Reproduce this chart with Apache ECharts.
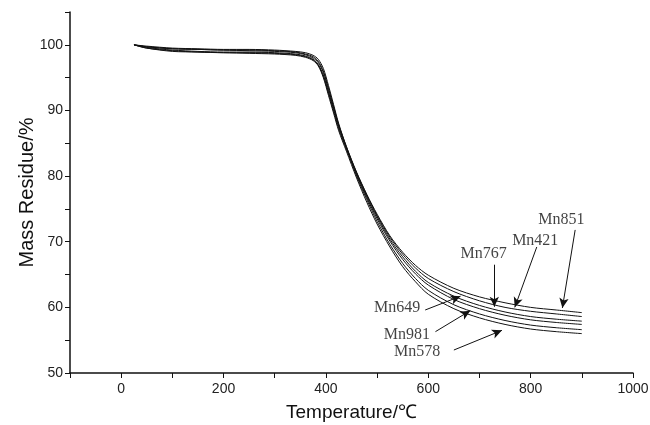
<!DOCTYPE html>
<html>
<head>
<meta charset="utf-8">
<script src="https://cdn.jsdelivr.net/npm/echarts@6/dist/echarts.min.js"></script>
<style>
  html, body { margin: 0; padding: 0; background: #fff; }
  #chart { width: 650px; height: 425px; }
</style>
</head>
<body>
<div id="chart"></div>
<script>
// --- data ---
const temps = [25, 50, 100, 150, 200, 250, 300, 340, 360, 375, 385, 395, 405, 415, 425, 440, 460, 480, 500, 525, 550, 575, 600, 650, 700, 750, 800, 850, 900];

const mn851 = [100, 99.7, 99.4, 99.3, 99.2, 99.1, 99.0, 98.8, 98.5, 98.0, 97.3, 95.8, 93.2, 90.5, 87.8, 84.5, 80.6, 77.2, 74.2, 70.9, 68.4, 66.4, 64.9, 62.9, 61.6, 60.7, 60.0, 59.6, 59.2];
const mn421 = [100, 99.6, 99.2, 99.0, 98.9, 98.9, 98.8, 98.6, 98.3, 97.8, 97.0, 95.4, 92.8, 90.2, 87.5, 84.3, 80.5, 77.1, 74.0, 70.7, 68.1, 66.0, 64.4, 62.4, 61.0, 60.0, 59.4, 59.0, 58.6];
const mn767 = [100, 99.8, 99.5, 99.4, 99.3, 99.3, 99.2, 99.0, 98.8, 98.4, 97.8, 96.4, 93.8, 90.9, 88.0, 84.5, 80.4, 76.9, 73.8, 70.4, 67.7, 65.5, 63.8, 61.7, 60.3, 59.3, 58.6, 58.2, 57.9];
const mn649 = [100, 99.5, 99.1, 98.9, 98.8, 98.8, 98.7, 98.5, 98.2, 97.7, 96.9, 95.2, 92.6, 89.9, 87.2, 84.1, 80.2, 76.7, 73.5, 70.1, 67.3, 65.1, 63.4, 61.2, 59.8, 58.8, 58.1, 57.7, 57.4];
const mn981 = [100, 99.7, 99.4, 99.3, 99.2, 99.2, 99.1, 98.9, 98.6, 98.2, 97.5, 96.0, 93.4, 90.6, 87.7, 84.3, 80.0, 76.4, 73.1, 69.6, 66.7, 64.4, 62.6, 60.4, 59.0, 58.0, 57.3, 56.9, 56.6];
const mn578 = [100, 99.5, 99.0, 98.9, 98.8, 98.7, 98.6, 98.4, 98.1, 97.6, 96.8, 95.0, 92.3, 89.6, 86.9, 83.8, 79.7, 76.0, 72.7, 69.2, 66.2, 63.9, 62.0, 59.8, 58.4, 57.4, 56.7, 56.3, 56.0];

const curveNames = ['Mn851', 'Mn421', 'Mn767', 'Mn649', 'Mn981', 'Mn578'];
const curveValues = [mn851, mn421, mn767, mn649, mn981, mn578];

// annotation text spots and arrows (temperature, mass)
const labelSpots = [[860, 73.4], [809, 70.2], [708, 68.2], [539, 59.9], [558, 55.8], [578, 53.2]];
const arrowFrom = [[887, 71.8], [812, 69.2], [729, 66.5], [594, 59.6], [614, 56.3], [650, 53.5]];
const arrowTo = [[862, 59.9], [769, 60.0], [729, 60.1], [663, 61.7], [682, 59.5], [744, 56.5]];

// --- chart ---
const chart = echarts.init(document.getElementById('chart'));

const lineSeries = curveNames.map((name, i) => ({
    name: name,
    type: 'line',
    data: temps.map((t, j) => [t, curveValues[i][j]]),
    smooth: 0.3,
    showSymbol: false,
    lineStyle: { color: '#111', width: 1 },
    silent: true
}));

const noteSeries = {
    type: 'scatter',
    symbolSize: 0,
    silent: true,
    data: labelSpots.map((p, i) => ({ value: p, name: curveNames[i] })),
    label: {
        show: true,
        position: 'inside',
        formatter: '{b}',
        color: '#111',
        fontFamily: 'Liberation Serif',
        fontSize: 16
    },
    markLine: {
        silent: true,
        symbol: ['none', 'arrow'],
        symbolSize: [7, 10],
        label: { show: false },
        lineStyle: { color: '#111', width: 1, type: 'solid' },
        data: arrowFrom.map((a, i) => [{ coord: a }, { coord: arrowTo[i] }])
    }
};

const axisText = { color: '#222', fontFamily: 'Liberation Sans', fontSize: 14 };

chart.setOption({
    animation: false,
    grid: { left: 70, right: 17, top: 12, bottom: 52, outerBoundsMode: 'none' },
    xAxis: {
        type: 'value',
        min: -100, max: 1000, interval: 100,
        name: 'Temperature/℃',
        nameLocation: 'middle',
        nameGap: 30,
        nameMoveOverlap: false,
        nameTextStyle: { color: '#111', fontFamily: 'Liberation Sans', fontSize: 19 },
        axisLine: { onZero: false, lineStyle: { color: '#111', width: 1.5 } },
        axisTick: { length: 5, lineStyle: { color: '#111' } },
        axisLabel: {
            ...axisText,
            margin: 9,
            formatter: v => (v >= 0 && v % 200 === 0) ? String(v) : ''
        },
        splitLine: { show: false }
    },
    yAxis: {
        type: 'value',
        min: 50, max: 105, interval: 5,
        name: 'Mass Residue/%',
        nameLocation: 'middle',
        nameGap: 33,
        nameMoveOverlap: false,
        nameTextStyle: { color: '#111', fontFamily: 'Liberation Sans', fontSize: 20 },
        axisLine: { show: true, onZero: false, lineStyle: { color: '#111', width: 1.5 } },
        axisTick: { show: true, length: 5, lineStyle: { color: '#111' } },
        axisLabel: {
            ...axisText,
            margin: 7,
            formatter: v => (v % 10 === 0) ? String(v) : ''
        },
        splitLine: { show: false }
    },
    series: [...lineSeries, noteSeries]
});
</script>
</body>
</html>
